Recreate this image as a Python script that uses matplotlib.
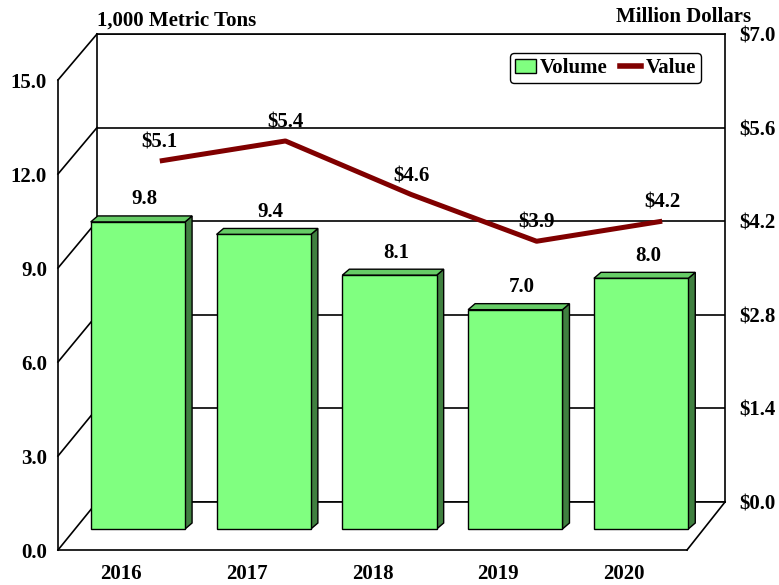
import matplotlib.pyplot as plt
from matplotlib.patches import Polygon, Patch
from matplotlib.lines import Line2D
from matplotlib.transforms import IdentityTransform

# data
years = ['2016', '2017', '2018', '2019', '2020']
volume = [9.8, 9.4, 8.1, 7.0, 8.0]        # 1,000 metric tons
value = [5.1, 5.4, 4.6, 3.9, 4.2]         # million dollars
vol_ticks = [0, 3, 6, 9, 12, 15]
val_ticks = [0, 1.4, 2.8, 4.2, 5.6, 7.0]

plt.rcParams['font.family'] = 'Liberation Serif'
plt.rcParams['font.weight'] = 'bold'
plt.rcParams['font.size'] = 15

W, H = 779, 585
fig = plt.figure(figsize=(W / 100, H / 100), dpi=100)


def rect(l, t, r, b):
    # pixel box (from top-left) -> figure fraction
    return [l / W, 1 - b / H, (r - l) / W, (b - t) / H]


# back wall, front plane, bar plane and line layer (fake 3d)
ax_back = fig.add_axes(rect(97, 34, 725, 502), zorder=0)
ax_front = fig.add_axes(rect(58, 80, 687, 550), zorder=1)
ax_bar = fig.add_axes(rect(75, 59, 704, 529), zorder=2)
ax_line = fig.add_axes(rect(97, 34, 725, 502), zorder=3)

x = list(range(len(years)))
for a in (ax_back, ax_front, ax_bar, ax_line):
    a.set_xlim(-0.5, len(years) - 0.5)

# back wall: right axis ($) + gridlines
ax_back.set_ylim(0, 7)
ax_back.yaxis.tick_right()
ax_back.set_yticks(val_ticks)
ax_back.set_yticklabels([f'${v:.1f}' for v in val_ticks])
ax_back.tick_params(axis='y', length=0, pad=10)
ax_back.set_xticks([])
ax_back.grid(axis='y', color='black', lw=1.2)
for s in ax_back.spines.values():
    s.set_linewidth(1.2)
ax_back.set_title('1,000 Metric Tons', loc='left', pad=6, fontsize=15, fontweight='bold')
fig.text(751 / W, 1 - 17 / H, 'Million Dollars', ha='right', va='center')

# front plane: left axis + years
ax_front.set_ylim(0, 15)
ax_front.set_yticks(vol_ticks)
ax_front.set_yticklabels([f'{v:.1f}' for v in vol_ticks])
ax_front.set_xticks(x)
ax_front.set_xticklabels(years)
ax_front.tick_params(axis='y', length=0, pad=8)
ax_front.tick_params(axis='x', length=0, pad=10)
ax_front.patch.set_visible(False)
ax_front.spines['top'].set_visible(False)
ax_front.spines['right'].set_visible(False)
ax_front.spines['left'].set_linewidth(1.2)
ax_front.spines['bottom'].set_linewidth(1.2)

# side wall diagonals and floor edge
xl, xr = ax_front.get_xlim()
for v in vol_ticks:
    p0 = ax_front.transData.transform((xl, v))
    p1 = ax_back.transData.transform((xl, v * 7 / 15))
    ax_front.add_line(Line2D([p0[0], p1[0]], [p0[1], p1[1]], color='black', lw=1.2,
                             transform=IdentityTransform(), clip_on=False))
p0 = ax_front.transData.transform((xr, 0))
p1 = ax_back.transData.transform((xr, 0))
ax_front.add_line(Line2D([p0[0], p1[0]], [p0[1], p1[1]], color='black', lw=1.2,
                         transform=IdentityTransform(), clip_on=False))

# bars
ax_bar.set_ylim(0, 15)
ax_bar.axis('off')
bars = ax_bar.bar(x, volume, width=0.75, color='#80FF80', edgecolor='black', lw=1,
                  zorder=3, clip_on=False)
dx, dy = 7, 6
for b, v in zip(bars, volume):
    x0, y0 = ax_bar.transData.transform((b.get_x(), 0))
    x1, y1 = ax_bar.transData.transform((b.get_x() + b.get_width(), b.get_height()))
    side = [(x1, y0), (x1 + dx, y0 + dy), (x1 + dx, y1 + dy), (x1, y1)]
    top = [(x0, y1), (x0 + dx, y1 + dy), (x1 + dx, y1 + dy), (x1, y1)]
    ax_bar.add_patch(Polygon(side, closed=True, fc='#408040', ec='black', lw=1,
                             transform=IdentityTransform(), clip_on=False, zorder=2))
    ax_bar.add_patch(Polygon(top, closed=True, fc='#66CC66', ec='black', lw=1,
                             transform=IdentityTransform(), clip_on=False, zorder=2))
    ax_bar.annotate(f'{v:.1f}', (b.get_x() + b.get_width() / 2, v), xytext=(5, 9),
                    textcoords='offset points', ha='center', va='bottom')

# value line
ax_line.set_ylim(0, 7)
ax_line.axis('off')
ax_line.plot(x, value, color='#800000', lw=3.6, solid_capstyle='butt')
for i, v in enumerate(value):
    ax_line.annotate(f'${v:.1f}', (i, v), xytext=(0, 6), textcoords='offset points',
                     ha='center', va='bottom')

handles = [Patch(fc='#80FF80', ec='black'), Line2D([], [], color='#800000', lw=4)]
leg = ax_line.legend(handles, ['Volume', 'Value'], ncol=2, loc='upper right',
                     bbox_to_anchor=(701 / W, 1 - 53 / H), bbox_transform=fig.transFigure,
                     fancybox=True, edgecolor='black', framealpha=1, handlelength=1.0,
                     handletextpad=0.2, columnspacing=0.6, borderpad=0.25, borderaxespad=0)
leg.get_frame().set_linewidth(1)

fig.savefig('out.png', dpi=100)
